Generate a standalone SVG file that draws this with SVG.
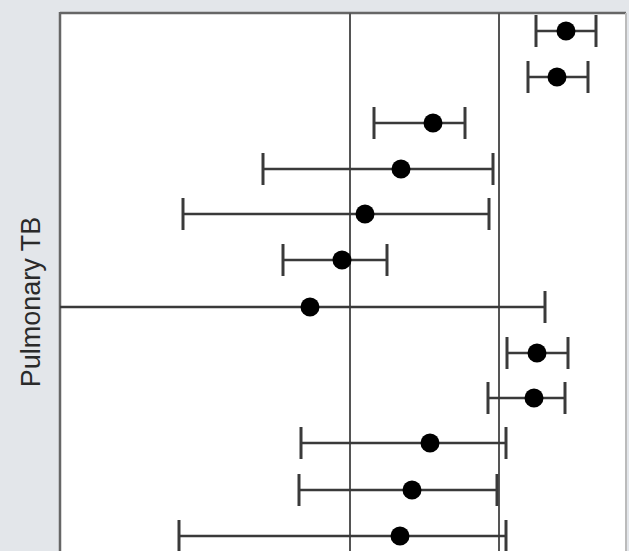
<svg xmlns="http://www.w3.org/2000/svg" width="629" height="551" viewBox="0 0 629 551">
<style>
.wh{stroke:#3a3a3a;stroke-width:2.5;fill:none}
.cap{stroke:#3a3a3a;stroke-width:3;fill:none}
.dot{fill:#000}
.ref{stroke:#555;stroke-width:2;fill:none}
.lbl{font-family:"Liberation Sans",Arial,sans-serif;font-size:27px;fill:#2a2a2a}
</style>
<rect x="0" y="0" width="629" height="551" fill="#e3e6ea"/>
<rect x="60" y="13" width="566" height="538" fill="#ffffff"/>
<line x1="60" y1="13" x2="626" y2="13" stroke="#666" stroke-width="2.5"/>
<line x1="60" y1="12" x2="60" y2="551" stroke="#666" stroke-width="2.5"/>
<line x1="626" y1="13" x2="626" y2="551" stroke="#bbb" stroke-width="2"/>
<g id="refs">
<line class="ref" x1="350" y1="13" x2="350" y2="551"/>
<line class="ref" x1="499" y1="13" x2="499" y2="551"/>
</g>
<text class="lbl" transform="translate(40,302) rotate(-90)" text-anchor="middle">Pulmonary TB</text>
<g id="connectors">
<line class="wh" x1="536" y1="31" x2="596" y2="31"/>
<line class="wh" x1="528" y1="77" x2="588" y2="77"/>
<line class="wh" x1="374" y1="123" x2="465" y2="123"/>
<line class="wh" x1="263" y1="169" x2="493" y2="169"/>
<line class="wh" x1="183" y1="214" x2="489" y2="214"/>
<line class="wh" x1="283" y1="260" x2="387" y2="260"/>
<line class="wh" x1="60" y1="307" x2="545" y2="307"/>
<line class="wh" x1="507" y1="353" x2="568" y2="353"/>
<line class="wh" x1="488" y1="398" x2="565" y2="398"/>
<line class="wh" x1="301" y1="443" x2="506" y2="443"/>
<line class="wh" x1="299" y1="490" x2="497" y2="490"/>
<line class="wh" x1="179" y1="536" x2="506" y2="536"/>
</g>
<g id="row1"><line class="cap" x1="536" y1="15" x2="536" y2="47"/><line class="cap" x1="596" y1="15" x2="596" y2="47"/><circle class="dot" cx="566" cy="31" r="9.5"/></g>
<g id="row2"><line class="cap" x1="528" y1="61" x2="528" y2="93"/><line class="cap" x1="588" y1="61" x2="588" y2="93"/><circle class="dot" cx="557" cy="77" r="9.5"/></g>
<g id="row3"><line class="cap" x1="374" y1="107" x2="374" y2="139"/><line class="cap" x1="465" y1="107" x2="465" y2="139"/><circle class="dot" cx="433" cy="123" r="9.5"/></g>
<g id="row4"><line class="cap" x1="263" y1="153" x2="263" y2="185"/><line class="cap" x1="493" y1="153" x2="493" y2="185"/><circle class="dot" cx="401" cy="169" r="9.5"/></g>
<g id="row5"><line class="cap" x1="183" y1="198" x2="183" y2="230"/><line class="cap" x1="489" y1="198" x2="489" y2="230"/><circle class="dot" cx="365" cy="214" r="9.5"/></g>
<g id="row6"><line class="cap" x1="283" y1="244" x2="283" y2="276"/><line class="cap" x1="387" y1="244" x2="387" y2="276"/><circle class="dot" cx="342" cy="260" r="9.5"/></g>
<g id="row7"><line class="cap" x1="545" y1="291" x2="545" y2="323"/><circle class="dot" cx="310" cy="307" r="9.5"/></g>
<g id="row8"><line class="cap" x1="507" y1="337" x2="507" y2="369"/><line class="cap" x1="568" y1="337" x2="568" y2="369"/><circle class="dot" cx="537" cy="353" r="9.5"/></g>
<g id="row9"><line class="cap" x1="488" y1="382" x2="488" y2="414"/><line class="cap" x1="565" y1="382" x2="565" y2="414"/><circle class="dot" cx="534" cy="398" r="9.5"/></g>
<g id="row10"><line class="cap" x1="301" y1="427" x2="301" y2="459"/><line class="cap" x1="506" y1="427" x2="506" y2="459"/><circle class="dot" cx="430" cy="443" r="9.5"/></g>
<g id="row11"><line class="cap" x1="299" y1="474" x2="299" y2="506"/><line class="cap" x1="497" y1="474" x2="497" y2="506"/><circle class="dot" cx="412" cy="490" r="9.5"/></g>
<g id="row12"><line class="cap" x1="179" y1="520" x2="179" y2="551"/><line class="cap" x1="506" y1="520" x2="506" y2="551"/><circle class="dot" cx="400" cy="536" r="9.5"/></g>
</svg>
